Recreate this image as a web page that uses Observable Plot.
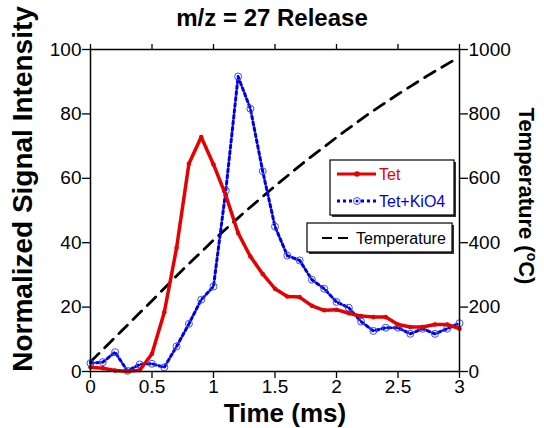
<!DOCTYPE html>
<html>
<head>
<meta charset="utf-8">
<script src="https://cdn.jsdelivr.net/npm/d3@7"></script>
<script src="https://cdn.jsdelivr.net/npm/@observablehq/plot@0.6"></script>
<style>
  html, body { margin: 0; padding: 0; background: #fff; }
  #chart { width: 544px; height: 428px; }
</style>
</head>
<body>
<div id="chart"></div>
<script>
// ---- data ----
const time = [0, 0.1, 0.2, 0.3, 0.4, 0.5, 0.6, 0.7, 0.8, 0.9, 1.0, 1.1, 1.2, 1.3, 1.4, 1.5, 1.6, 1.7, 1.8, 1.9, 2.0, 2.1, 2.2, 2.3, 2.4, 2.5, 2.6, 2.7, 2.8, 2.9, 3.0];
const tetSignal = [1.3, 1.0, 0.3, 0.1, 0.4, 5.5, 18.4, 38.4, 64.5, 72.8, 64.3, 54.7, 43.0, 35.7, 30.3, 25.7, 23.3, 23.1, 20.4, 19.0, 19.2, 18.1, 17.2, 16.9, 16.9, 14.6, 13.8, 13.8, 14.6, 14.6, 13.3];
const kioSignal = [2.6, 2.9, 6.0, 0.2, 2.2, 2.4, 1.3, 7.8, 14.8, 22.3, 26.4, 56.2, 91.6, 81.6, 62.2, 45.0, 36.0, 34.5, 28.5, 25.7, 21.6, 19.8, 15.5, 12.6, 13.6, 13.6, 11.7, 13.3, 11.7, 13.3, 15.0];
const tempTime = [0, 0.25, 0.5, 0.75, 1.0, 1.25, 1.5, 1.75, 2.0, 2.25, 2.5, 2.75, 2.95];
const tempValue = [30, 125, 220, 316, 408, 494, 576, 654, 727, 797, 861, 921, 966];
const xTicks = [0, 0.5, 1, 1.5, 2, 2.5, 3];
const yTicks = [0, 20, 40, 60, 80, 100];
const tempTicks = [0, 200, 400, 600, 800, 1000];
const seriesNames = ["Tet", "Tet+KiO4", "Temperature"];

const tet = time.map((t, i) => ({t, v: tetSignal[i]}));
const kio = time.map((t, i) => ({t, v: kioSignal[i]}));
const temp = tempTime.map((t, i) => ({t, T: tempValue[i]}));

const RED = "#e60000", BLUE = "#0000e6";
const font = "'Liberation Sans', Arial, sans-serif";

const plot = Plot.plot({
  width: 544, height: 428,
  marginLeft: 90, marginRight: 85, marginTop: 49, marginBottom: 57,
  style: {fontFamily: font, fontSize: "19px", color: "black", background: "white"},
  x: {domain: [0, 3]},
  y: {domain: [0, 100]},
  marks: [
    Plot.line(temp, {x: "t", y: d => d.T / 10, stroke: "black", strokeWidth: 2.8, strokeDasharray: "12,8"}),
    Plot.line(kio, {x: "t", y: "v", stroke: BLUE, strokeWidth: 3, strokeDasharray: "3,3"}),
    Plot.dot(kio, {x: "t", y: "v", r: 3.5, stroke: "#3050ff", strokeWidth: 1, fill: "none"}),
    Plot.line(tet, {x: "t", y: "v", stroke: RED, strokeWidth: 3.5}),
    Plot.dot(tet, {x: "t", y: "v", r: 2.3, fill: RED}),
    Plot.frame({stroke: "black", strokeWidth: 1.5}),
    Plot.axisX(xTicks, {anchor: "bottom", tickSize: 7, tickPadding: 1, tickFormat: d => String(d), label: null, strokeWidth: 1.3}),
    Plot.axisX(xTicks, {anchor: "top", tickSize: 6, tickFormat: () => "", label: null, strokeWidth: 1.3}),
    Plot.axisY(yTicks, {anchor: "left", tickSize: 8, tickPadding: 1, tickFormat: d => String(d), label: null, strokeWidth: 1.3}),
    Plot.axisY(tempTicks.map(d => d / 10), {anchor: "right", tickSize: 8, tickPadding: 1, tickFormat: d => String(Math.round(d * 10)), label: null, strokeWidth: 1.3})
  ]
});

document.getElementById("chart").appendChild(plot);
const svg = d3.select(plot);

// title and axis labels
svg.append("text").attr("x", 272).attr("y", 26).attr("text-anchor", "middle")
  .attr("font-family", font).attr("font-weight", "bold").attr("font-size", 24).text("m/z = 27 Release");
svg.append("text").attr("x", 285).attr("y", 422).attr("text-anchor", "middle")
  .attr("font-family", font).attr("font-weight", "bold").attr("font-size", 26).text("Time (ms)");
svg.append("text").attr("transform", "translate(32,189) rotate(-90)").attr("text-anchor", "middle")
  .attr("font-family", font).attr("font-weight", "bold").attr("font-size", 28).text("Normalized Signal Intensity");
const rl = svg.append("text").attr("transform", "translate(519,196) rotate(90)").attr("text-anchor", "middle")
  .attr("font-family", font).attr("font-weight", "bold").attr("font-size", 22);
rl.append("tspan").text("Temperature (");
rl.append("tspan").attr("font-size", 14).attr("dy", -8).text("o");
rl.append("tspan").attr("dy", 8).text("C)");

// legend boxes
function box(x, y, w, h) {
  svg.append("rect").attr("x", x + 2).attr("y", y + 2).attr("width", w).attr("height", h).attr("fill", "#333");
  svg.append("rect").attr("x", x).attr("y", y).attr("width", w).attr("height", h).attr("fill", "white").attr("stroke", "black").attr("stroke-width", 1.2);
}
function label(x, y, txt, color) {
  svg.append("text").attr("x", x).attr("y", y).attr("text-anchor", "start").attr("font-family", font)
    .attr("font-size", 16).attr("fill", color).text(txt);
}
box(330, 160, 124, 55);
svg.append("line").attr("x1", 337).attr("x2", 376).attr("y1", 174).attr("y2", 174).attr("stroke", RED).attr("stroke-width", 3);
svg.append("circle").attr("cx", 357).attr("cy", 174).attr("r", 2.8).attr("fill", RED);
label(379, 180, seriesNames[0], RED);
svg.append("line").attr("x1", 337).attr("x2", 376).attr("y1", 201).attr("y2", 201).attr("stroke", BLUE).attr("stroke-width", 3).attr("stroke-dasharray", "3,3");
svg.append("circle").attr("cx", 357).attr("cy", 201).attr("r", 3.5).attr("fill", "white").attr("stroke", "#3050ff").attr("stroke-width", 1);
svg.append("circle").attr("cx", 357).attr("cy", 201).attr("r", 1.5).attr("fill", BLUE);
label(379, 207, seriesNames[1], BLUE);
box(307, 223, 145, 29);
svg.append("line").attr("x1", 322).attr("x2", 350).attr("y1", 238).attr("y2", 238).attr("stroke", "black").attr("stroke-width", 1.8).attr("stroke-dasharray", "10,6");
label(356, 244, seriesNames[2], "black");
</script>
</body>
</html>
